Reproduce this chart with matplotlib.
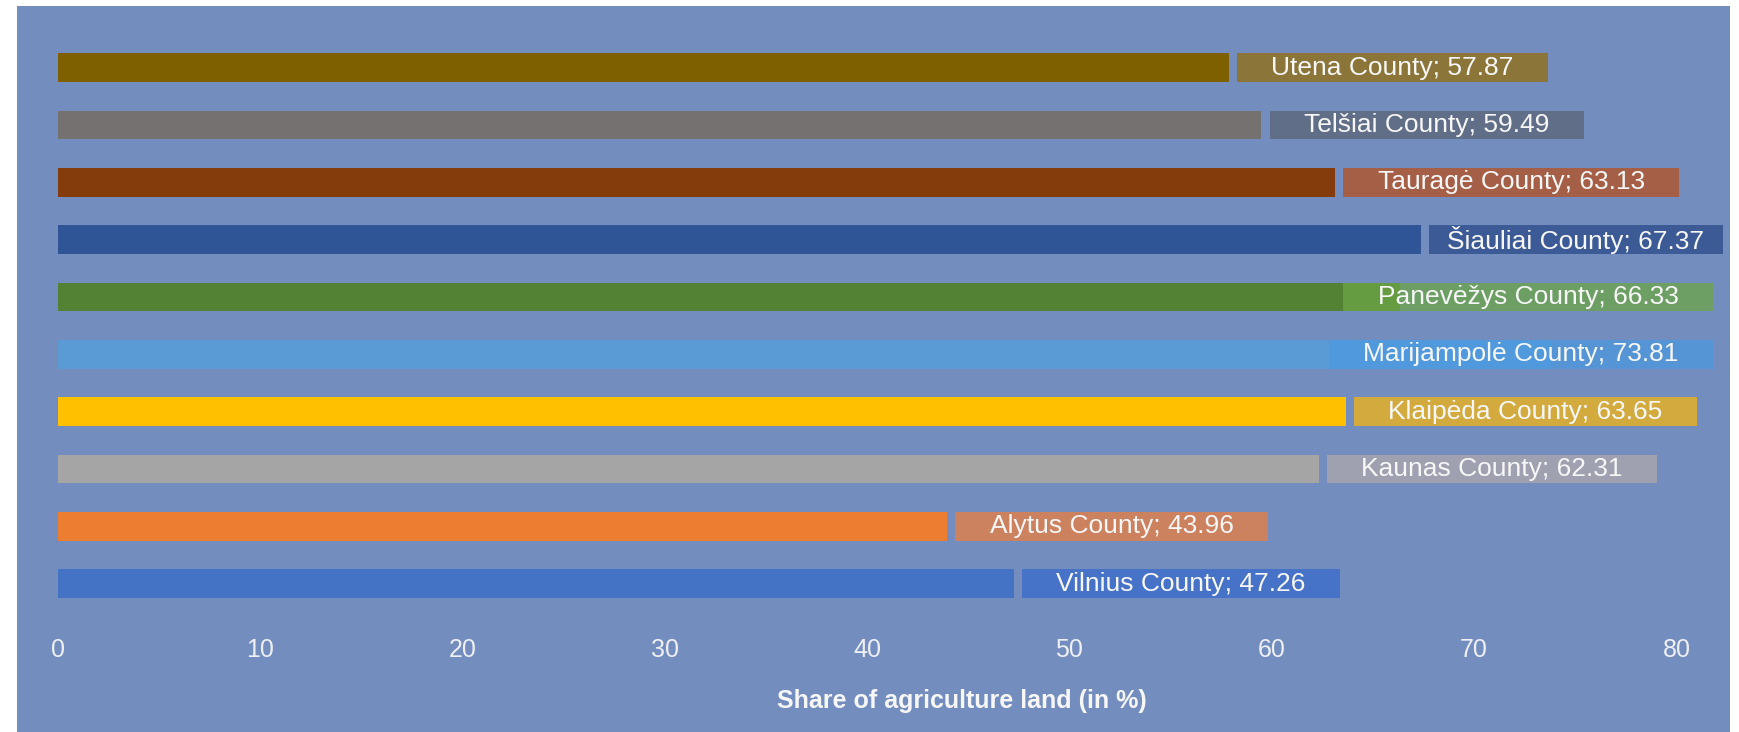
import matplotlib
matplotlib.use("Agg")
import matplotlib.pyplot as plt
from matplotlib.patches import Rectangle

plt.rcParams['font.family'] = ['Liberation Sans', 'DejaVu Sans']

counties = ["Vilnius County", "Alytus County", "Kaunas County", "Klaipėda County",
            "Marijampolė County", "Panevėžys County", "Šiauliai County",
            "Tauragė County", "Telšiai County", "Utena County"]
shares = [47.26, 43.96, 62.31, 63.65, 73.81, 66.33, 67.37, 63.13, 59.49, 57.87]
bar_colors = ['#4472C4', '#ED7D31', '#A5A5A5', '#FFC000', '#5B9BD5',
              '#548235', '#2F5597', '#843C0C', '#767171', '#7F6000']
box_colors = ['#376ACB', '#EB7E3F', '#AFA8AC', '#F4B411', '#4B99DF',
              '#6CA646', '#2A4989', '#B6501E', '#5C6475', '#946E0B']
xticks = [0, 10, 20, 30, 40, 50, 60, 70, 80]
xlabel = "Share of agriculture land (in %)"

bg = '#738DBF'
W, H = 1740, 732
fig = plt.figure(figsize=(W / 100, H / 100), dpi=100, facecolor='white')
# coloured panel behind the chart
panel = Rectangle((17 / W, 0), (1730 - 17) / W, 1 - 6 / H,
                  transform=fig.transFigure, facecolor=bg,
                  edgecolor='none', zorder=-5)
fig.add_artist(panel)

ax = fig.add_axes([57.7 / W, 0.1556, (1723 - 57.7) / W, 0.9545 - 0.1556])
ax.set_zorder(2)
ax.set_facecolor('none')
xmax = 82.3
ax.set_xlim(0, xmax)
ax.set_ylim(-0.6, 9.6)

bh = 0.5
y = list(range(len(counties)))
ax.barh(y, shares, height=bh, color=bar_colors, zorder=2)

for s in ax.spines.values():
    s.set_visible(False)
ax.set_yticks([])
ax.set_xticks(xticks)
ax.tick_params(axis='x', length=0, pad=14, labelsize=18, labelcolor='#EEF0F5')

# data labels in tinted boxes, kept inside the plot area
renderer = fig.canvas.get_renderer()
px_per_unit = ax.bbox.width / xmax
gap, pad, minpad = 0.4, 1.7, 0.8
for yi, name, v, bc in zip(y, counties, shares, box_colors):
    label = f"{name}; {v:.2f}"
    t = ax.text(0, yi, label, ha='center', va='center', fontsize=19,
                color='#F7F7F7', zorder=4)
    tw = t.get_window_extent(renderer).width / px_per_unit
    start = v + gap
    full = tw + 2 * pad
    if start + full <= xmax:
        x0, x1 = start, start + full
    elif start + tw + 2 * minpad <= xmax:
        x0, x1 = start, xmax
    else:
        x0, x1 = xmax - full - 0.5, xmax - 0.5
    ax.add_patch(Rectangle((x0, yi - bh / 2), x1 - x0, bh, facecolor=bc,
                           alpha=0.75, edgecolor='none', zorder=3))
    t.set_x((x0 + x1) / 2)

fig.text(962 / W, 1 - 701 / H, xlabel, ha='center', va='center',
         fontsize=18, fontweight='bold', color='#F7F7F7')

fig.savefig("out.png", dpi=100, facecolor='white')
